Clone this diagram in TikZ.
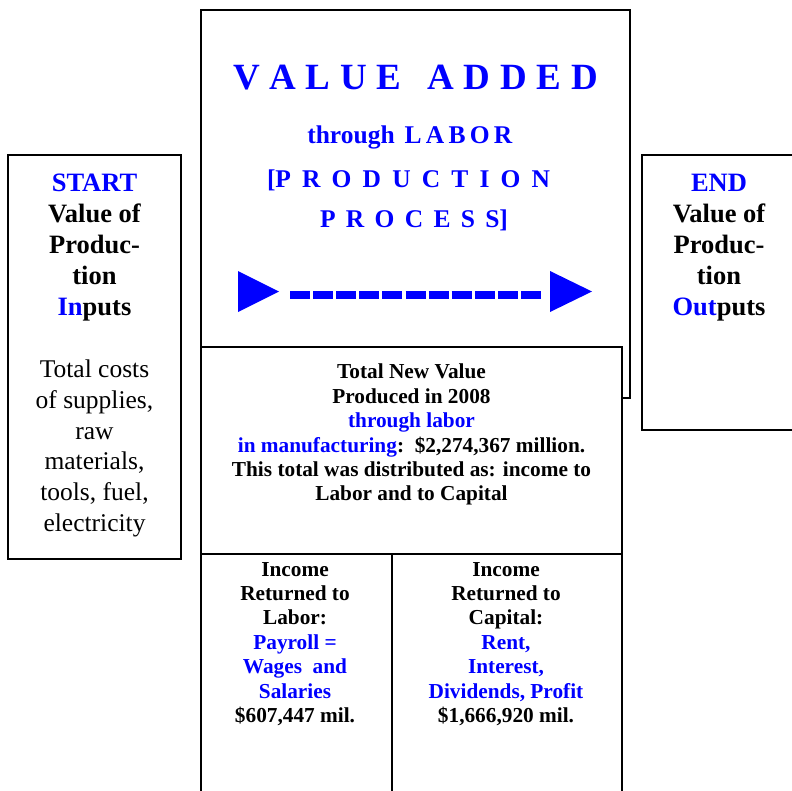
\documentclass[tikz,border=0pt]{standalone}
\usepackage{fontspec}
\setmainfont{Liberation Serif}
\usepackage{xcolor}
\definecolor{pureblue}{RGB}{0,0,255}
\usepackage{tikz}
\usetikzlibrary{positioning}
\tikzset{
  frame/.style={draw,line width=2pt,fill=white},
  head/.style={font=\bfseries\fontsize{26.5}{31}\selectfont,align=center,inner sep=0pt,anchor=north},
  plain/.style={font=\fontsize{25.5}{30.8}\selectfont,align=center,inner sep=0pt,anchor=north},
  body/.style={font=\bfseries\fontsize{21.3}{24.4}\selectfont,align=center,inner sep=0pt,anchor=north},
  title/.style={font=\bfseries\fontsize{37}{40}\selectfont,text=pureblue,inner sep=0pt,anchor=base},
  spaced/.style={font=\bfseries\fontsize{25.5}{30}\selectfont,text=pureblue,inner sep=0pt,anchor=base},
  dashline/.style={pureblue,line width=8pt,dash pattern=on 20pt off 3.1pt},
}
\begin{document}
\begin{tikzpicture}[x=1pt,y=-1pt]
\useasboundingbox (0,0) rectangle (792,790);
\draw[frame] (201,10) rectangle (630,398);
\draw[frame] (201,347) rectangle (622,800);
\draw[line width=2pt] (201,554) -- (622,554);
\draw[line width=2pt] (392,554) -- (392,800);
\draw[frame] (8,155) rectangle (181,559);
\draw[frame] (642,155) rectangle (796,430);

\node[title] (valueadded) at (415.5,89) {\makebox[365pt][s]{V A L U E\hspace{26pt}A D D E D}};
\node[spaced] (throughlabor) at (409.5,143) {through\hspace{10pt}\makebox[107pt][s]{L A B O R}};
\node[spaced] (production) at (408.5,187) {\makebox[283pt][s]{[P R O D U C T I O N}};
\node[spaced] (process) at (414,227) {\makebox[188pt][s]{P R O C E S S]}};

\fill[pureblue] (238,271) -- (279,291.5) -- (238,312) -- cycle;
\fill[pureblue] (550,271) -- (592,291.5) -- (550,312) -- cycle;
\coordinate (dashstart) at (290,294.7);
\coordinate (dashend) at (541,294.7);
\draw[dashline] (dashstart) -- (dashend);

\node[head] (start) at (94.5,174) {\textcolor{pureblue}{START}\\Value of\\Produc-\\tion\\\textcolor{pureblue}{In}puts};
\node[plain] (costs) at (94.5,359.5) {Total costs\\of supplies,\\raw\\materials,\\tools, fuel,\\electricity};
\node[head] (end) at (719,174) {\textcolor{pureblue}{END}\\Value of\\Produc-\\tion\\\textcolor{pureblue}{Out}puts};

\node[body] (newvalue) at (411.5,364) {Total New Value\\Produced in 2008\\\textcolor{pureblue}{through labor}\\\textcolor{pureblue}{in manufacturing}:\ \ \$2,274,367 million.\\This total was distributed as: income to\\Labor and to Capital};
\node[body] (labor) at (295,562) {Income\\Returned to\\Labor:\\\textcolor{pureblue}{Payroll =}\\\textcolor{pureblue}{Wages\ \ and}\\\textcolor{pureblue}{Salaries}\\\$607,447 mil.};
\node[body] (capital) at (506,562) {Income\\Returned to\\Capital:\\\textcolor{pureblue}{Rent,}\\\textcolor{pureblue}{Interest,}\\\textcolor{pureblue}{Dividends, Profit}\\\$1,666,920 mil.};
\end{tikzpicture}
\end{document}
